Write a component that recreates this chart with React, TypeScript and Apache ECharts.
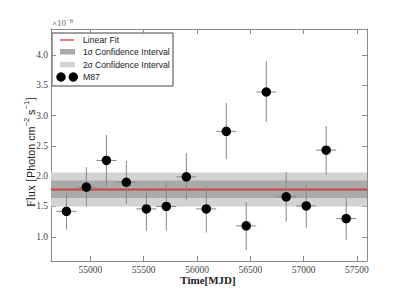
import React, { useEffect, useRef } from "react";
import * as echarts from "echarts";

// Data (flux in units of 1e-8 photon cm^-2 s^-1)
const mjd = [54775, 54962, 55150, 55337, 55525, 55712, 55900, 56087, 56275, 56462, 56650, 56837, 57025, 57212, 57400];
const flux = [1.42, 1.82, 2.26, 1.9, 1.46, 1.5, 1.99, 1.46, 2.74, 1.18, 3.39, 1.66, 1.51, 2.43, 1.3];
const fluxLow = [1.12, 1.5, 1.84, 1.54, 1.1, 1.1, 1.61, 1.07, 2.28, 0.78, 2.9, 1.25, 1.15, 2.03, 0.95];
const fluxHigh = [1.72, 2.15, 2.68, 2.25, 1.8, 1.91, 2.38, 1.85, 3.21, 1.57, 3.9, 2.07, 1.87, 2.83, 1.64];
const timeHalfWidth = [94, 94, 94, 94, 94, 94, 94, 94, 94, 94, 94, 94, 94, 94, 94];

const fitValue = [1.78];
const sigma1 = [1.64, 1.93];
const sigma2 = [1.5, 2.06];

const xRange = [54630, 57595];
const yRange = [0.6, 4.43];
const xTicks = [55000, 55500, 56000, 56500, 57000, 57500];
const yTicks = [1.0, 1.5, 2.0, 2.5, 3.0, 3.5, 4.0];

const legendLabels = ["Linear Fit", "1", " Confidence Interval", "2", "M87"];

const AXIS_COLOR = "#8a8a8a";
const SERIF = "'Liberation Serif', serif";
const SANS = "'Liberation Sans', Arial, sans-serif";

type Piece = { t: string; family: string; size: number; dy: number };
const yTitlePieces: Piece[] = [
  { t: "Flux [", family: SERIF, size: 12, dy: 0 },
  { t: "Photon cm", family: SANS, size: 10.8, dy: 0 },
  { t: "−2", family: SANS, size: 7.5, dy: -4.5 },
  { t: " s", family: SANS, size: 10.8, dy: 0 },
  { t: "−1", family: SANS, size: 7.5, dy: -4.5 },
  { t: "]", family: SERIF, size: 12, dy: 0 },
];

function measure(text: string, family: string, size: number): number {
  const c = document.createElement("canvas").getContext("2d");
  if (!c) return text.length * size * 0.5;
  c.font = `${size}px ${family}`;
  return c.measureText(text).width;
}

export default function App() {
  const ref = useRef<HTMLDivElement>(null);

  useEffect(() => {
    if (!ref.current) return;
    const chart = echarts.init(ref.current, undefined, { renderer: "svg" });

    const errData = mjd.map((x, i) => [x, flux[i], fluxLow[i], fluxHigh[i], timeHalfWidth[i]]);
    const pts = mjd.map((x, i) => [x, flux[i]]);

    const widths = yTitlePieces.map((p) => measure(p.t, p.family, p.size));
    const total = widths.reduce((a, b) => a + b, 0);
    let cx = -total / 2;
    const yTitleChildren = yTitlePieces.map((p, i) => {
      const el = {
        type: "text",
        x: cx,
        y: p.dy,
        style: {
          text: p.t,
          fontFamily: p.family,
          fontSize: p.size,
          fill: "#222",
          align: "left",
          verticalAlign: "middle",
        },
      };
      cx += widths[i];
      return el;
    });

    const baseX = {
      type: "value",
      min: xRange[0],
      max: xRange[1],
      splitLine: { show: false },
      axisLine: { show: true, lineStyle: { color: AXIS_COLOR, width: 1 } },
    };
    const baseY = {
      type: "value",
      min: yRange[0],
      max: yRange[1],
      splitLine: { show: false },
      axisLine: { show: true, lineStyle: { color: AXIS_COLOR, width: 1 } },
    };

    const option: any = {
      animation: false,
      grid: { left: 51, top: 29, width: 316, height: 232, containLabel: false },
      xAxis: [
        {
          ...baseX,
          position: "bottom",
          axisTick: { show: true, inside: true, length: 5, customValues: xTicks, lineStyle: { color: AXIS_COLOR } },
          axisLabel: {
            show: true,
            customValues: xTicks,
            margin: 4,
            fontFamily: SERIF,
            fontSize: 9.5,
            color: "#444",
            formatter: (v: number) => String(Math.round(v)),
          },
        },
        {
          ...baseX,
          position: "top",
          axisTick: { show: true, inside: true, length: 5, customValues: xTicks, lineStyle: { color: AXIS_COLOR } },
          axisLabel: { show: false },
        },
      ],
      yAxis: [
        {
          ...baseY,
          position: "left",
          axisTick: { show: true, inside: true, length: 5, customValues: yTicks, lineStyle: { color: AXIS_COLOR } },
          axisLabel: {
            show: true,
            customValues: yTicks,
            margin: 3,
            fontFamily: SERIF,
            fontSize: 9.5,
            color: "#444",
            formatter: (v: number) => v.toFixed(1),
          },
        },
        {
          ...baseY,
          position: "right",
          axisTick: { show: true, inside: true, length: 5, customValues: yTicks, lineStyle: { color: AXIS_COLOR } },
          axisLabel: { show: false },
        },
      ],
      series: [
        {
          type: "line",
          data: [],
          silent: true,
          z: 1,
          markArea: {
            silent: true,
            itemStyle: { color: "#d3d3d3", opacity: 1 },
            data: [[{ yAxis: sigma2[0] }, { yAxis: sigma2[1] }]],
          },
        },
        {
          type: "line",
          data: [],
          silent: true,
          z: 2,
          markArea: {
            silent: true,
            itemStyle: { color: "#aaaaaa", opacity: 1 },
            data: [[{ yAxis: sigma1[0] }, { yAxis: sigma1[1] }]],
          },
        },
        {
          type: "line",
          data: [[xRange[0], fitValue[0]], [xRange[1], fitValue[0]]],
          symbol: "none",
          z: 3,
          lineStyle: { color: "rgba(220,0,0,0.6)", width: 2 },
        },
        {
          type: "custom",
          z: 4,
          data: errData,
          renderItem: (params: any, api: any) => {
            const x = api.value(0);
            const y = api.value(1);
            const lo = api.value(2);
            const hi = api.value(3);
            const hw = api.value(4);
            const pTop = api.coord([x, hi]);
            const pBot = api.coord([x, lo]);
            const pL = api.coord([x - hw, y]);
            const pR = api.coord([x + hw, y]);
            const st = { stroke: "#888", lineWidth: 1 };
            return {
              type: "group",
              children: [
                { type: "line", shape: { x1: pTop[0], y1: pTop[1], x2: pBot[0], y2: pBot[1] }, style: st },
                { type: "line", shape: { x1: pL[0], y1: pL[1], x2: pR[0], y2: pR[1] }, style: st },
              ],
            };
          },
        },
        {
          type: "scatter",
          z: 5,
          data: pts,
          symbol: "circle",
          symbolSize: 9.5,
          itemStyle: { color: "#000", opacity: 1 },
        },
      ],
      graphic: [
        {
          type: "text",
          x: 52,
          y: 23,
          style: {
            text: "{a|×10}{s|−8}",
            verticalAlign: "middle",
            rich: {
              a: { fontFamily: SERIF, fontSize: 9, fill: "#666" },
              s: { fontFamily: SERIF, fontSize: 6.5, fill: "#666", padding: [0, 0, 6, 0] },
            },
          },
        },
        {
          type: "group",
          x: 31,
          y: 152,
          rotation: Math.PI / 2,
          children: yTitleChildren,
        },
        {
          type: "text",
          x: 208,
          y: 280,
          style: {
            text: "Time[MJD]",
            align: "center",
            verticalAlign: "middle",
            fontFamily: SERIF,
            fontWeight: "bold",
            fontSize: 11,
            fill: "#222",
          },
        },
        {
          type: "group",
          z: 100,
          children: [
            {
              type: "rect",
              shape: { x: 52, y: 33, width: 121, height: 53 },
              style: { fill: "#fff", stroke: "#444", lineWidth: 1 },
            },
            {
              type: "line",
              shape: { x1: 60, y1: 40, x2: 74, y2: 40 },
              style: { stroke: "rgba(220,0,0,0.5)", lineWidth: 2 },
            },
            {
              type: "text",
              x: 83,
              y: 40,
              style: { text: legendLabels[0], fontFamily: SANS, fontSize: 8.7, fill: "#222", verticalAlign: "middle" },
            },
            {
              type: "rect",
              shape: { x: 60, y: 49, width: 15, height: 5.5 },
              style: { fill: "#aaaaaa" },
            },
            {
              type: "text",
              x: 83,
              y: 52,
              style: {
                text: `{n|${legendLabels[1]}}{g|σ}{n|${legendLabels[2]}}`,
                verticalAlign: "middle",
                rich: {
                  n: { fontFamily: SANS, fontSize: 8.7, fill: "#222" },
                  g: { fontFamily: SERIF, fontStyle: "italic", fontSize: 9.5, fill: "#222" },
                },
              },
            },
            {
              type: "rect",
              shape: { x: 60, y: 61.8, width: 15, height: 5.5 },
              style: { fill: "#d3d3d3" },
            },
            {
              type: "text",
              x: 83,
              y: 64.5,
              style: {
                text: `{n|${legendLabels[3]}}{g|σ}{n|${legendLabels[2]}}`,
                verticalAlign: "middle",
                rich: {
                  n: { fontFamily: SANS, fontSize: 8.7, fill: "#222" },
                  g: { fontFamily: SERIF, fontStyle: "italic", fontSize: 9.5, fill: "#222" },
                },
              },
            },
            { type: "circle", shape: { cx: 61, cy: 77, r: 4.7 }, style: { fill: "#000" } },
            { type: "circle", shape: { cx: 73.3, cy: 77, r: 4.7 }, style: { fill: "#000" } },
            {
              type: "text",
              x: 83,
              y: 77,
              style: { text: legendLabels[4], fontFamily: SANS, fontSize: 8.7, fill: "#222", verticalAlign: "middle" },
            },
          ],
        },
      ],
    };

    chart.setOption(option);
    return () => chart.dispose();
  }, []);

  return (
    <div
      ref={ref}
      style={{ position: "fixed", left: 0, top: 0, width: 407, height: 291, background: "#fff" }}
    />
  );
}
